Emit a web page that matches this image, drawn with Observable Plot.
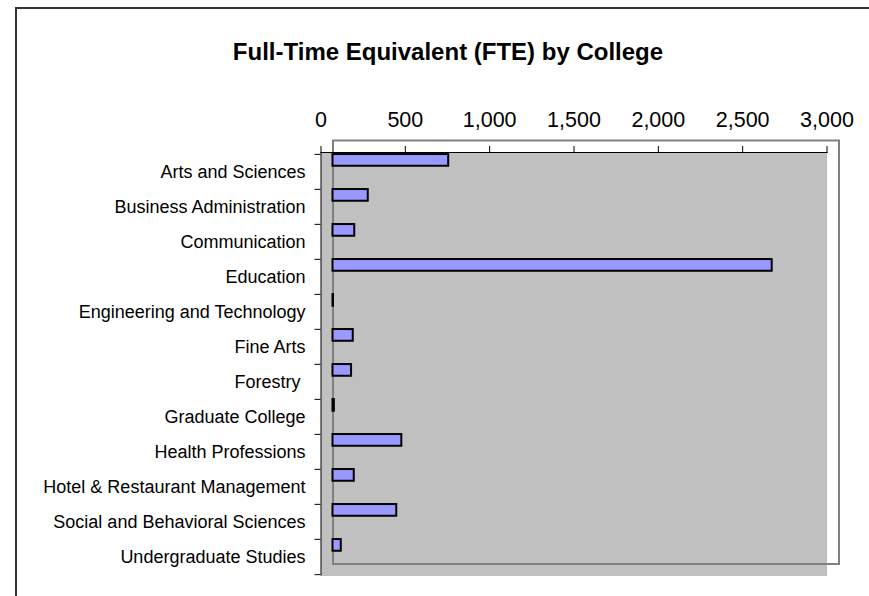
<!DOCTYPE html>
<html>
<head>
<meta charset="utf-8">
<script src="https://cdn.jsdelivr.net/npm/d3@7"></script>
<script src="https://cdn.jsdelivr.net/npm/@observablehq/plot@0.6"></script>
<style>
  html, body { margin: 0; padding: 0; background: #fff; }
  #wrap { position: relative; width: 869px; height: 596px; overflow: hidden; font-family: "Liberation Sans", Arial, sans-serif; }
  #border { position: absolute; left: 15px; top: 7px; width: 900px; height: 700px; border-top: 2px solid #333; border-left: 2px solid #333; box-sizing: border-box; }
  #title { position: absolute; left: 0; width: 896px; top: 37px; text-align: center; font-weight: bold; font-size: 24px; line-height: 30px; color: #000; }
  #chart { position: absolute; left: 0; top: 0; }
</style>
</head>
<body>
<div id="wrap">
  <div id="border"></div>
  <div id="chart"></div>
  <div id="title">Full-Time Equivalent (FTE) by College</div>
</div>
<script>
const colleges = [
  "Arts and Sciences",
  "Business Administration",
  "Communication",
  "Education",
  "Engineering and Technology",
  "Fine Arts",
  "Forestry ",
  "Graduate College",
  "Health Professions",
  "Hotel & Restaurant Management",
  "Social and Behavioral Sciences",
  "Undergraduate Studies"
];
const fte = [686, 209, 129, 2604, 3, 120, 110, 8, 408, 126, 378, 49];
const xTicks = [0, 500, 1000, 1500, 2000, 2500, 3000];

const data = colleges.map((c, i) => ({college: c, fte: fte[i]}));

const W = 869, H = 596;
const mL = 320.5, mR = 42.5, mT = 152, mB = 20.5;
const band = (H - mT - mB) / colleges.length;
const depth = 12;

const chart = Plot.plot({
  width: W,
  height: H,
  marginLeft: mL,
  marginRight: mR,
  marginTop: mT,
  marginBottom: mB,
  style: {background: "transparent", fontFamily: "'Liberation Sans', Arial, sans-serif", color: "#000"},
  x: {domain: [0, 3000], label: null},
  y: {domain: colleges, padding: 0, label: null},
  marks: [
    Plot.frame({fill: "#c0c0c0"}),
    Plot.frame({stroke: "#808080", strokeWidth: 2, dx: depth, dy: -depth}),
    Plot.barX(data, {
      y: "college", x: "fte",
      fill: "#9999ff", stroke: "#000", strokeWidth: 2,
      insetTop: (band - 12) / 2, insetBottom: (band - 12) / 2,
      dx: depth, dy: -11.6
    }),
    Plot.ruleX([0], {stroke: "#000", strokeWidth: 1}),
    Plot.frame({anchor: "top", stroke: "#000", strokeWidth: 1}),
    Plot.axisX({
      anchor: "top", ticks: xTicks, tickFormat: d3.format(","), label: null,
      tickSize: 7, tickPadding: 19, fontSize: 21.5, stroke: "#000", fill: "#000"
    }),
    Plot.axisY({
      anchor: "left", tickSize: 6, tickFormat: () => "", label: null, dy: -band / 2, stroke: "#000"
    }),
    Plot.axisY({
      anchor: "left", ticks: [colleges[colleges.length - 1]], tickSize: 6, tickFormat: () => "", label: null, dy: band / 2, stroke: "#000"
    }),
    Plot.axisY({
      anchor: "left", tickSize: 0, tickPadding: 15.5, fontSize: 18, label: null, fill: "#000"
    })
  ]
});
document.getElementById("chart").appendChild(chart);
</script>
</body>
</html>
